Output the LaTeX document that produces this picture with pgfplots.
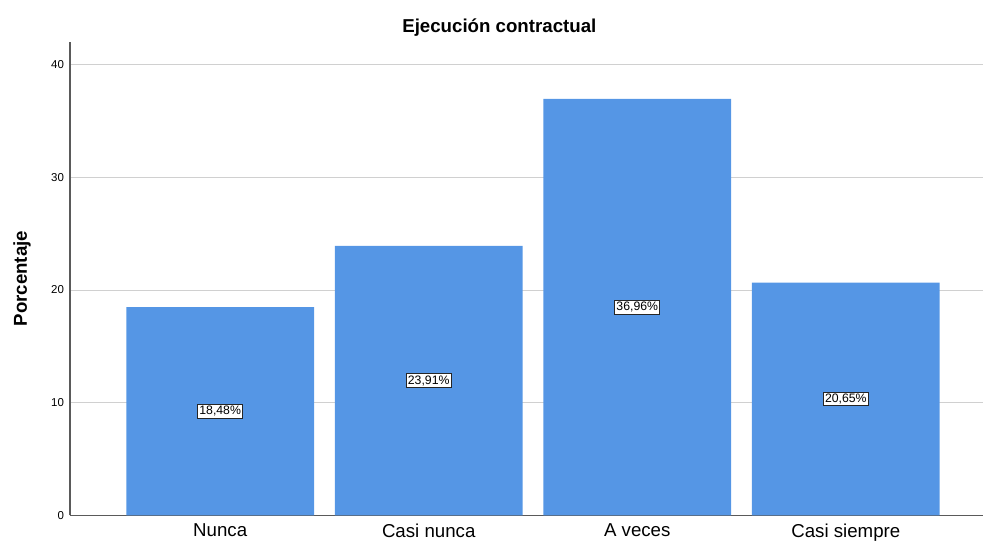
\documentclass[border=0pt]{standalone}
\usepackage{pgfplots}
\pgfplotsset{compat=1.18}
\usepackage{fontspec}
\setmainfont{Liberation Sans}
\definecolor{barblue}{RGB}{85,150,229}
\definecolor{gridgray}{RGB}{208,208,208}
\definecolor{axisgray}{RGB}{90,90,90}

\begin{document}
\begin{tikzpicture}
\begin{axis}[
  name=ax,
  scale only axis,
  width=685pt, height=355pt,
  xmin=-0.72, xmax=3.66,
  ymin=0, ymax=42,
  axis lines*=left,
  axis line style={axisgray, line width=0.8pt},
  ybar, bar width=0.9,
  xtick={0,1,2,3},
  xticklabels={Nunca, Casi nunca, A veces, Casi siempre},
  x tick label style={font=\fontsize{14}{16}\selectfont, yshift=-3pt},
  ytick={0,10,20,30,40},
  y tick label style={font=\fontsize{8.6}{10}\selectfont, xshift=-1pt},
  /pgf/number format/assume math mode=true,
  major tick length=0pt,
  ymajorgrids,
  grid style={gridgray, line width=0.7pt},
  ylabel={\bfseries Porcentaje},
  ylabel style={font=\fontsize{14}{16}\selectfont, at={(axis description cs:0,0.5)}, anchor=center, yshift=36pt},
  title={\bfseries Ejecución contractual},
  title style={font=\fontsize{14}{16}\selectfont, at={(axis description cs:0.47,1)}, anchor=center, yshift=5pt},
  visualization depends on=rawy \as \rawy,
  nodes near coords={\pgfmathprintnumber[fixed,fixed zerofill,precision=2,use comma]{\pgfplotspointmeta}\%},
  every node near coord/.append style={
    anchor=center, font=\fontsize{9.2}{11}\selectfont,
    fill=white, draw=black!85, line width=0.6pt, inner sep=1.3pt,
    shift={(axis direction cs:0,-\rawy/2)}},
]
\addplot[fill=barblue, draw=none] coordinates {(0,18.48) (1,23.91) (2,36.96) (3,20.65)};
\end{axis}
\path (ax.south west) ++(-52.5pt,-20pt);
\path (ax.north east) ++(0,31.5pt);
\end{tikzpicture}
\end{document}
